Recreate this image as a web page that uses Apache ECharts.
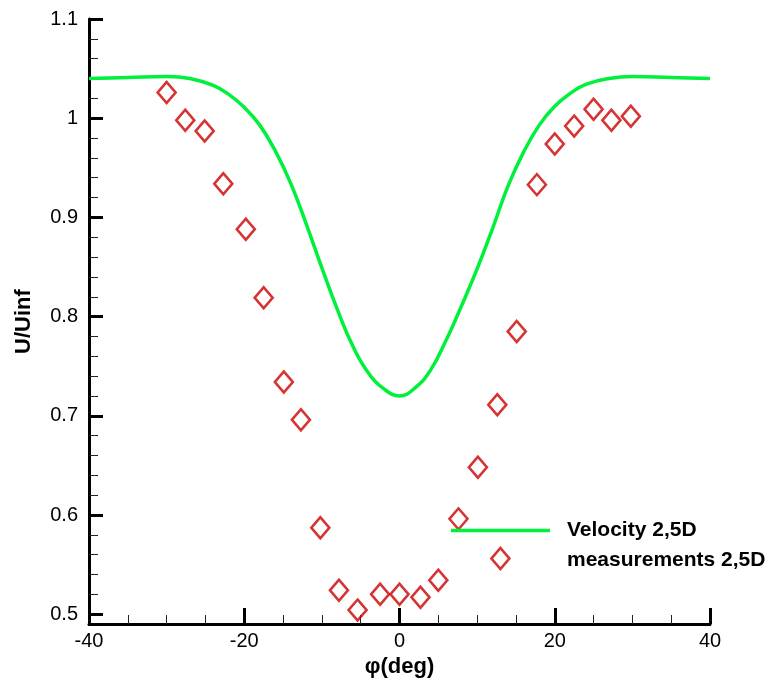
<!DOCTYPE html>
<html>
<head>
<meta charset="utf-8">
<script src="https://cdn.jsdelivr.net/npm/echarts@6/dist/echarts.min.js"></script>
<style>
html,body{margin:0;padding:0;background:#fff;}
#chart{width:777px;height:686px;}
</style>
</head>
<body>
<div id="chart"></div>
<script>
// Simulated velocity profile (green line)
var lineX = [-40,-35,-30,-27,-24,-22,-20,-18,-16,-14,-12,-10,-8,-6,-4,-2,0,2,4,6,8,10,12,14,16,18,20,22,24,27,30,35,40];
var lineY = [1.040,1.041,1.042,1.040,1.033,1.024,1.011,0.993,0.967,0.934,0.893,0.849,0.807,0.770,0.743,0.727,0.720,0.728,0.746,0.776,0.811,0.848,0.889,0.932,0.966,0.993,1.012,1.025,1.034,1.040,1.042,1.041,1.040];
// Measurements (red diamonds)
var measX = [-30,-27.6,-25.1,-22.7,-19.8,-17.5,-14.9,-12.7,-10.2,-7.8,-5.4,-2.5,0,2.7,5.0,7.6,10.1,12.6,13.0,15.1,17.7,20.0,22.5,25.0,27.3,29.8];
var measY = [1.026,0.998,0.987,0.934,0.888,0.819,0.734,0.696,0.587,0.524,0.504,0.520,0.520,0.517,0.534,0.596,0.648,0.711,0.556,0.785,0.933,0.974,0.992,1.009,0.998,1.002];
var seriesNames = ['Velocity 2,5D', 'measurements 2,5D'];
var xTitle = 'φ(deg)';
var yTitle = 'U/Uinf';

var font = 'Liberation Sans, Arial, sans-serif';
var lineData = lineX.map(function(x, i){ return [x, lineY[i]]; });
var measData = measX.map(function(x, i){ return [x, measY[i]]; });
var green = '#00f03c';

var chart = echarts.init(document.getElementById('chart'));
chart.setOption({
  animation: false,
  backgroundColor: '#ffffff',
  grid: [
    {left: 89, right: 67, top: 19, bottom: 62},
    {left: 89, right: 67, top: 19, bottom: 71.8}
  ],
  xAxis: [
    {
      gridIndex: 0, type: 'value', min: -40, max: 40, interval: 20,
      name: xTitle, nameLocation: 'middle', nameGap: 30,
      nameTextStyle: {fontFamily: font, fontWeight: 'bold', fontSize: 22, color: '#000'},
      axisLine: {show: true, onZero: false, lineStyle: {color: '#000', width: 3}},
      axisTick: {show: true, inside: true, length: 16, lineStyle: {color: '#000', width: 3}},
      minorTick: {show: true, splitNumber: 4, length: 9, lineStyle: {color: '#222', width: 1}},
      axisLabel: {fontFamily: font, fontSize: 20, color: '#000', margin: 7},
      splitLine: {show: false}
    },
    {
      gridIndex: 1, type: 'value', min: -40, max: 40, show: false,
      axisLine: {onZero: false}
    }
  ],
  yAxis: [
    {
      gridIndex: 0, type: 'value', min: 0.49, max: 1.1,
      name: yTitle, nameLocation: 'middle', nameGap: 54, nameRotate: 90,
      nameTextStyle: {fontFamily: font, fontWeight: 'bold', fontSize: 22, color: '#000'},
      axisLine: {show: true, onZero: false, lineStyle: {color: '#000', width: 3}},
      axisTick: {show: false},
      axisLabel: {show: false},
      splitLine: {show: false}
    },
    {
      gridIndex: 1, type: 'value', min: 0.5, max: 1.1, interval: 0.1,
      position: 'left',
      axisLine: {show: false, onZero: false},
      axisTick: {show: true, inside: true, length: 14, lineStyle: {color: '#000', width: 3}},
      minorTick: {show: true, splitNumber: 5, length: 9, lineStyle: {color: '#222', width: 1}},
      axisLabel: {fontFamily: font, fontSize: 20, color: '#000', margin: 11,
        formatter: function(v){ return String(Math.round(v*10)/10); }},
      splitLine: {show: false}
    }
  ],
  legend: {
    orient: 'vertical',
    left: 451, top: 519.5,
    padding: 0,
    itemWidth: 99, itemHeight: 3.5, itemGap: 8,
    textStyle: {fontFamily: font, fontWeight: 'bold', fontSize: 21, color: '#000', lineHeight: 22, padding: [0,0,0,12]},
    data: [
      {name: seriesNames[0], icon: 'rect', itemStyle: {color: green}},
      {name: seriesNames[1], icon: 'none'}
    ]
  },
  series: [
    {
      name: seriesNames[0], type: 'line', xAxisIndex: 0, yAxisIndex: 0,
      data: lineData, smooth: 0.45, symbol: 'none',
      lineStyle: {color: green, width: 3.5},
      itemStyle: {color: green},
      z: 2
    },
    {
      name: seriesNames[1], type: 'scatter', xAxisIndex: 0, yAxisIndex: 0,
      data: measData, symbol: 'diamond', symbolSize: [18, 21],
      itemStyle: {color: 'rgba(255,255,255,0)', borderColor: '#cc0000', borderWidth: 2.6},
      z: 3
    }
  ]
});
</script>
</body>
</html>
